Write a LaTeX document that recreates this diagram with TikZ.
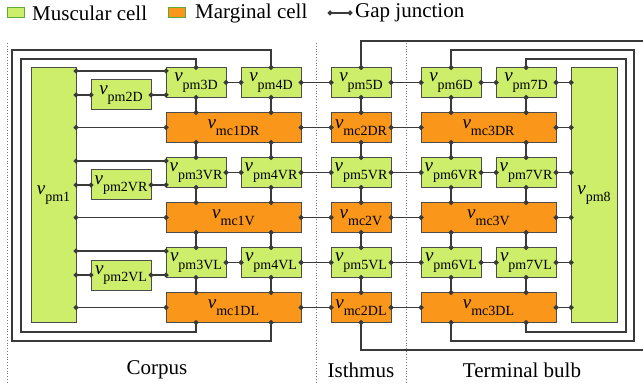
\documentclass[tikz,border=0pt]{standalone}
\usepackage{fontspec}
\setmainfont{Liberation Serif}
\usetikzlibrary{arrows.meta}
\definecolor{musgreen}{HTML}{CCEE6A}
\definecolor{margorange}{HTML}{FA961A}
\definecolor{legedge}{HTML}{5FA83A}
\definecolor{wire}{HTML}{3A3A3A}
\newcommand{\vlab}[1]{\textit{v}\raisebox{-7.5pt}{\fontsize{14}{14}\selectfont #1}}

\begin{document}
\begin{tikzpicture}[x=1pt, y=-1pt, font=\fontsize{19}{22}\selectfont,
  cell/.style={draw=black!70, line width=1pt, inner sep=0pt, outer sep=0pt, minimum height=30pt},
  mus/.style={cell, fill=musgreen, minimum width=60pt},
  mar/.style={cell, fill=margorange, minimum width=135pt},
  gj/.style={draw=wire, line width=1.2pt, arrows={Circle[length=5pt]-Circle[length=5pt]}, shorten <=-2.5pt, shorten >=-2.5pt},
  sect/.style={draw=black!55, dotted, line width=0.8pt},
  lbl/.style={font=\fontsize{21}{24}\selectfont, inner sep=0pt}]
  \useasboundingbox (0,0) rectangle (643,385);

  % Legend
  \node[draw=legedge, fill=musgreen, line width=1pt, minimum width=17pt, minimum height=10pt, inner sep=0pt] (lgMus) at (16,13) {};
  \node[lbl, anchor=west] (lgMusT) at (32,13) {Muscular cell};
  \node[draw=legedge, fill=margorange, line width=1pt, minimum width=17pt, minimum height=10pt, inner sep=0pt] (lgMar) at (176.5,13) {};
  \node[lbl, anchor=west] (lgMarT) at (195,13) {Marginal cell};
  \coordinate (lgA) at (330,13);
  \coordinate (lgB) at (350,13);
  \draw[gj] (lgA) -- (lgB);
  \node[lbl, anchor=west] (lgGJ) at (355,13) {Gap junction};

  % Regions
  \draw[sect] (7,43) -- (7,385);
  \draw[sect] (316,43) -- (316,385);
  \draw[sect] (406,43) -- (406,385);
  \node[lbl] (corpus) at (157,370) {Corpus};
  \node[lbl] (isthmus) at (361,370) {Isthmus};
  \node[lbl] (bulb) at (522,370) {Terminal bulb};

  % End cells
  \node[cell, fill=musgreen, minimum width=45pt, minimum height=255pt] (pm1) at (53.5,195) {\vlab{pm1}};
  \node[cell, fill=musgreen, minimum width=46pt, minimum height=255pt] (pm8) at (594,195) {\vlab{pm8}};

  % Muscular rows
  \foreach \s/\y in {D/82.5, VR/172.5, VL/262.5} {
    \node[mus] (pm2\s) at (121,\y+12.5) {\vlab{pm2\s}};
    \node[mus] (pm3\s) at (196,\y) {\vlab{pm3\s}};
    \node[mus] (pm4\s) at (271,\y) {\vlab{pm4\s}};
    \node[mus] (pm5\s) at (361,\y) {\vlab{pm5\s}};
    \node[mus] (pm6\s) at (451,\y) {\vlab{pm6\s}};
    \node[mus] (pm7\s) at (526,\y) {\vlab{pm7\s}};
  }

  % Marginal rows
  \foreach \s/\y in {DR/127.5, V/217.5, DL/307.5} {
    \node[mar] (mc1\s) at (233.5,\y) {\vlab{mc1\s}};
    \node[mus, fill=margorange] (mc2\s) at (361,\y) {\vlab{mc2\s}};
    \node[mar] (mc3\s) at (488.5,\y) {\vlab{mc3\s}};
  }

  % Gap junctions along the muscular rows
  \foreach \s in {D,VR,VL} {
    \coordinate (in3\s) at ([yshift=11.5pt]pm3\s.west);
    \draw[gj] (pm1.east |- in3\s) -- (in3\s);
    \draw[gj] (pm1.east |- pm2\s.west) -- (pm2\s.west);
    \draw[gj] (pm2\s.east) -- (pm3\s.west |- pm2\s.east);
    \draw[gj] (pm3\s.east) -- (pm4\s.west);
    \draw[gj] (pm4\s.east) -- (pm5\s.west);
    \draw[gj] (pm5\s.east) -- (pm6\s.west);
    \draw[gj] (pm6\s.east) -- (pm7\s.west);
    \draw[gj] (pm7\s.east) -- (pm8.west |- pm7\s.east);
  }

  % Gap junctions along the marginal rows
  \foreach \s in {DR,V,DL} {
    \draw[gj] (pm1.east |- mc1\s.west) -- (mc1\s.west);
    \draw[gj] (mc1\s.east) -- (mc2\s.west);
    \draw[gj] (mc2\s.east) -- (mc3\s.west);
    \draw[gj] (mc3\s.east) -- (pm8.west |- mc3\s.east);
  }

  % Columns
  \foreach \col/\m in {3/1, 4/1, 5/2, 6/3, 7/3} {
    \draw[gj] (pm\col D.south) -- (pm\col D.south |- mc\m DR.north);
    \draw[gj] (pm\col VR.north) -- (pm\col VR.north |- mc\m DR.south);
    \draw[gj] (pm\col VR.south) -- (pm\col VR.south |- mc\m V.north);
    \draw[gj] (pm\col VL.north) -- (pm\col VL.north |- mc\m V.south);
    \draw[gj] (pm\col VL.south) -- (pm\col VL.south |- mc\m DL.north);
  }

  % Outer loops
  \coordinate (railL1) at (12,50);   \coordinate (railL1b) at (12,341);
  \coordinate (railL2) at (21,59);   \coordinate (railL2b) at (21,332);
  \coordinate (railR1) at (634,50);  \coordinate (railR1b) at (634,341);
  \coordinate (railR2) at (626,59);  \coordinate (railR2b) at (626,332);
  \coordinate (railM) at (646,41);   \coordinate (railMb) at (646,350);
  \draw[gj] (pm4D.north) |- (railL1) -- (railL1b) -| (pm4VL.south |- mc1DL.south);
  \draw[gj] (pm3D.north) |- (railL2) -- (railL2b) -| (pm3VL.south |- mc1DL.south);
  \draw[gj] (pm6D.north) |- (railR1) -- (railR1b) -| (pm6VL.south |- mc3DL.south);
  \draw[gj] (pm7D.north) |- (railR2) -- (railR2b) -| (pm7VL.south |- mc3DL.south);
  \draw[gj] (pm5D.north) |- (railM) -- (railMb) -| (mc2DL.south);
\end{tikzpicture}
\end{document}
